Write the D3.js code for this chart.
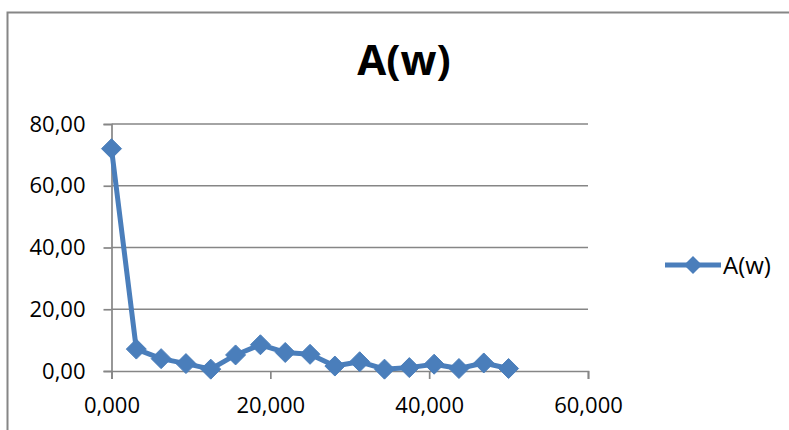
<!DOCTYPE html>
<html>
<head>
<meta charset="utf-8">
<script src="https://cdn.jsdelivr.net/npm/d3@7"></script>
<style>
  html, body { margin: 0; padding: 0; background: #ffffff; }
  svg { display: block; }
</style>
</head>
<body>
<svg id="chart" width="789" height="430"></svg>
<script>
// Amplitude spectrum A(w)
const chartTitle = "A(w)";
const seriesName = "A(w)";
const freq = [0, 3.125, 6.25, 9.375, 12.5, 15.625, 18.75, 21.875, 25, 28.125, 31.25, 34.375, 37.5, 40.625, 43.75, 46.875, 50];
const amplitude = [72.0, 7.1, 4.0, 2.4, 0.6, 5.2, 8.5, 6.0, 5.4, 1.6, 3.0, 0.6, 1.1, 2.2, 0.8, 2.6, 0.8];
const xTicks = [0, 20, 40, 60];
const yTicks = [0, 20, 40, 60, 80];

const svg = d3.select("#chart");
const font = "'Open Sans', 'Liberation Sans', sans-serif";
const grey = "#868686";
const blue = "#4A7EBB";

// Comma as decimal separator
const loc = d3.formatLocale({ decimal: ",", thousands: ".", grouping: [3], currency: ["", ""] });
const fmtX = loc.format(".3f");
const fmtY = loc.format(".2f");

// Outer chart frame
svg.append("rect")
  .attr("x", 7.5).attr("y", 12.5)
  .attr("width", 800).attr("height", 440)
  .attr("fill", "#fff").attr("stroke", grey).attr("stroke-width", 2);

const x = d3.scaleLinear().domain([0, 60]).range([111.5, 588]);
const y = d3.scaleLinear().domain([0, 80]).range([371, 124]);

// Horizontal gridlines
svg.append("g").selectAll("line").data(yTicks.filter(d => d > 0)).join("line")
  .attr("x1", x(0)).attr("x2", x(60))
  .attr("y1", d => y(d)).attr("y2", d => y(d))
  .attr("stroke", grey).attr("stroke-width", 1.7);

// Y axis
const yAxis = svg.append("g").attr("transform", `translate(${x(0)},0)`)
  .call(d3.axisLeft(y).tickValues(yTicks).tickFormat(fmtY).tickSizeOuter(0).tickSize(8).tickPadding(18));
// X axis
const xAxis = svg.append("g").attr("transform", `translate(0,${y(0)})`)
  .call(d3.axisBottom(x).tickValues(xTicks).tickFormat(fmtX).tickSizeOuter(0).tickSize(8).tickPadding(18));

[yAxis, xAxis].forEach(g => {
  g.select(".domain").attr("stroke", grey).attr("stroke-width", 1.7);
  g.selectAll(".tick line").attr("stroke", grey).attr("stroke-width", 1.7);
  g.selectAll("text").attr("font-family", font).attr("font-size", 22).attr("fill", "#000");
});

// Title
svg.append("text")
  .attr("x", 404).attr("y", 75)
  .attr("text-anchor", "middle")
  .attr("font-family", font).attr("font-weight", "bold").attr("font-size", 42)
  .attr("fill", "#000")
  .text(chartTitle);

// Series line
const pts = freq.map((f, i) => [f, amplitude[i]]);
svg.append("path")
  .datum(pts)
  .attr("fill", "none")
  .attr("stroke", blue).attr("stroke-width", 5)
  .attr("stroke-linejoin", "round")
  .attr("d", d3.line().x(d => x(d[0])).y(d => y(d[1])));

// Diamond markers
const diamond = (cx, cy, r) => `M${cx},${cy - r}L${cx + r},${cy}L${cx},${cy + r}L${cx - r},${cy}Z`;
svg.append("g").selectAll("path").data(pts).join("path")
  .attr("d", d => diamond(x(d[0]), y(d[1]), 10))
  .attr("fill", blue).attr("stroke", blue).attr("stroke-width", 1)
  .attr("stroke-linejoin", "round");

// Legend
const lg = svg.append("g");
lg.append("line")
  .attr("x1", 665).attr("x2", 721).attr("y1", 265).attr("y2", 265)
  .attr("stroke", blue).attr("stroke-width", 5);
lg.append("path").attr("d", diamond(693, 265, 9)).attr("fill", blue);
lg.append("text")
  .attr("x", 723).attr("y", 274)
  .attr("font-family", font).attr("font-size", 24).attr("fill", "#000")
  .text(seriesName);
</script>
</body>
</html>
